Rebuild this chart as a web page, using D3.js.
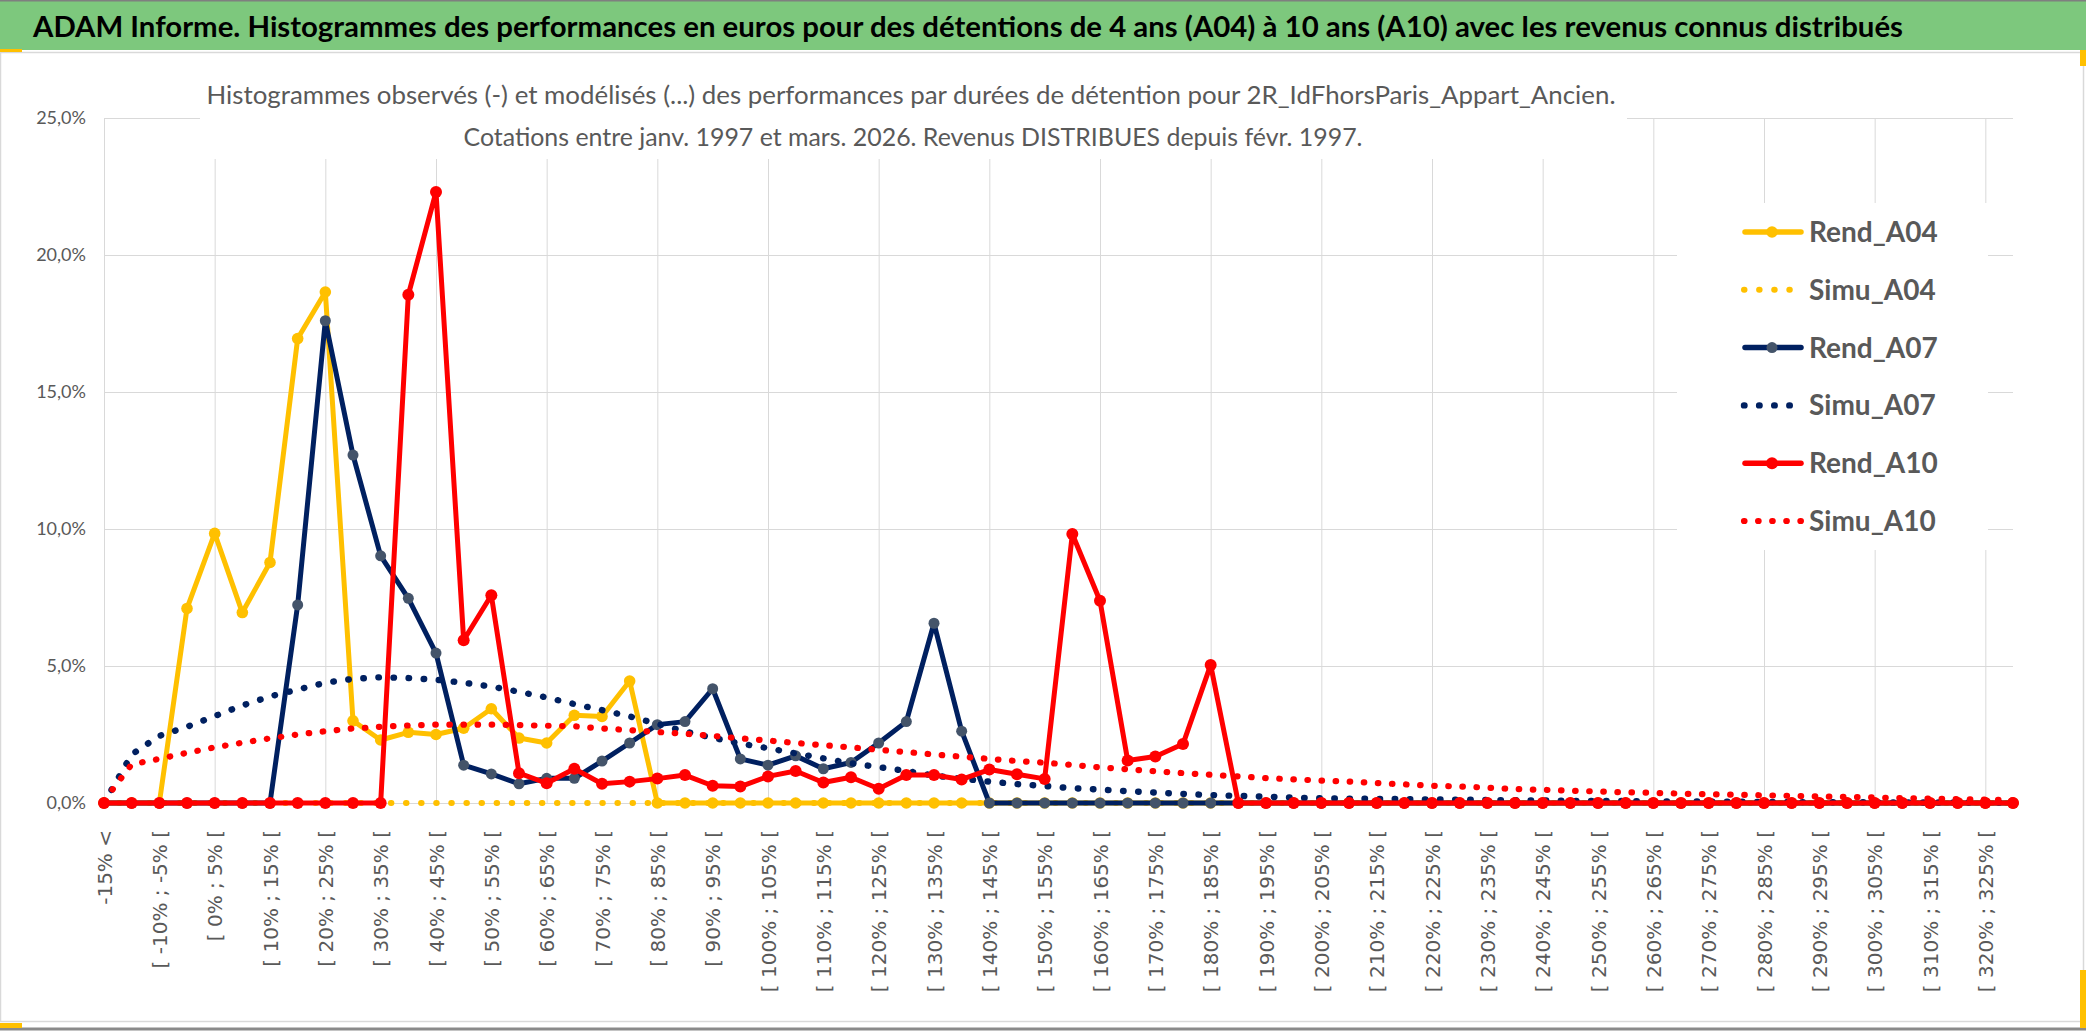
<!DOCTYPE html>
<html>
<head>
<meta charset="utf-8">
<script src="https://cdnjs.cloudflare.com/ajax/libs/d3/7.8.5/d3.min.js"></script>
<style>
    body { margin: 0; background: #ffffff; }
    svg { display: block; }
</style>
</head>
<body>
<div id="chart"></div>
<script>
// categories of the histogram (5% wide buckets)
const categories = [
    '-15% <', '[ -15% ; -10% [', '[ -10% ; -5% [', '[ -5% ; 0% [', '[ 0% ; 5% [',
    '[ 5% ; 10% [', '[ 10% ; 15% [', '[ 15% ; 20% [', '[ 20% ; 25% [', '[ 25% ; 30% [',
    '[ 30% ; 35% [', '[ 35% ; 40% [', '[ 40% ; 45% [', '[ 45% ; 50% [', '[ 50% ; 55% [',
    '[ 55% ; 60% [', '[ 60% ; 65% [', '[ 65% ; 70% [', '[ 70% ; 75% [', '[ 75% ; 80% [',
    '[ 80% ; 85% [', '[ 85% ; 90% [', '[ 90% ; 95% [', '[ 95% ; 100% [', '[ 100% ; 105% [',
    '[ 105% ; 110% [', '[ 110% ; 115% [', '[ 115% ; 120% [', '[ 120% ; 125% [', '[ 125% ; 130% [',
    '[ 130% ; 135% [', '[ 135% ; 140% [', '[ 140% ; 145% [', '[ 145% ; 150% [', '[ 150% ; 155% [',
    '[ 155% ; 160% [', '[ 160% ; 165% [', '[ 165% ; 170% [', '[ 170% ; 175% [', '[ 175% ; 180% [',
    '[ 180% ; 185% [', '[ 185% ; 190% [', '[ 190% ; 195% [', '[ 195% ; 200% [', '[ 200% ; 205% [',
    '[ 205% ; 210% [', '[ 210% ; 215% [', '[ 215% ; 220% [', '[ 220% ; 225% [', '[ 225% ; 230% [',
    '[ 230% ; 235% [', '[ 235% ; 240% [', '[ 240% ; 245% [', '[ 245% ; 250% [', '[ 250% ; 255% [',
    '[ 255% ; 260% [', '[ 260% ; 265% [', '[ 265% ; 270% [', '[ 270% ; 275% [', '[ 275% ; 280% [',
    '[ 280% ; 285% [', '[ 285% ; 290% [', '[ 290% ; 295% [', '[ 295% ; 300% [', '[ 300% ; 305% [',
    '[ 305% ; 310% [', '[ 310% ; 315% [', '[ 315% ; 320% [', '[ 320% ; 325% [', '[ 325% ; 330% ['
];

// values in %
const rendA04 = [
    0, 0, 0, 7.1, 9.84, 6.95, 8.78, 16.95, 18.65, 3.0,
    2.3, 2.58, 2.5, 2.73, 3.44, 2.37, 2.19, 3.2, 3.16, 4.45,
    0, 0, 0, 0, 0, 0, 0, 0, 0, 0,
    0, 0, 0, 0, 0, 0, 0, 0, 0, 0,
    0, 0, 0, 0, 0, 0, 0, 0, 0, 0,
    0, 0, 0, 0, 0, 0, 0, 0, 0, 0,
    0, 0, 0, 0, 0, 0, 0, 0, 0, 0
];
const simuA04 = [
    0, 0, 0, 0, 0, 0, 0, 0, 0, 0,
    0, 0, 0, 0, 0, 0, 0, 0, 0, 0,
    0, 0, 0, 0, 0, 0, 0, 0, 0, 0,
    0, 0, 0, 0, 0, 0, 0, 0, 0, 0,
    0, 0, 0, 0, 0, 0, 0, 0, 0, 0,
    0, 0, 0, 0, 0, 0, 0, 0, 0, 0,
    0, 0, 0, 0, 0, 0, 0, 0, 0, 0
];
const rendA07 = [
    0, 0, 0, 0, 0, 0, 0, 7.23, 17.6, 12.7,
    9.02, 7.47, 5.47, 1.38, 1.06, 0.7, 0.9, 0.9, 1.53, 2.19,
    2.86, 2.97, 4.17, 1.61, 1.38, 1.72, 1.25, 1.48, 2.19, 2.97,
    6.56, 2.62, 0, 0, 0, 0, 0, 0, 0, 0,
    0, 0, 0, 0, 0, 0, 0, 0, 0, 0,
    0, 0, 0, 0, 0, 0, 0, 0, 0, 0,
    0, 0, 0, 0, 0, 0, 0, 0, 0, 0
];
const simuA07 = [
    0, 1.77, 2.45, 2.78, 3.17, 3.56, 3.89, 4.14, 4.39, 4.53,
    4.59, 4.56, 4.5, 4.39, 4.25, 4.06, 3.85, 3.61, 3.39, 3.16,
    2.89, 2.61, 2.38, 2.17, 2.0, 1.81, 1.63, 1.45, 1.31, 1.17,
    1.0, 0.89, 0.78, 0.69, 0.62, 0.54, 0.49, 0.43, 0.38, 0.33,
    0.29, 0.26, 0.23, 0.2, 0.17, 0.16, 0.15, 0.14, 0.13, 0.12,
    0.11, 0.1, 0.09, 0.08, 0.075, 0.07, 0.06, 0.055, 0.05, 0.045,
    0.04, 0.035, 0.03, 0.028, 0.025, 0.022, 0.02, 0.018, 0.016, 0.014
];
const rendA10 = [
    0, 0, 0, 0, 0, 0, 0, 0, 0, 0,
    0, 18.55, 22.3, 5.94, 7.58, 1.09, 0.72, 1.25, 0.7, 0.78,
    0.89, 1.02, 0.63, 0.6, 0.97, 1.17, 0.75, 0.94, 0.52, 1.02,
    1.02, 0.86, 1.22, 1.05, 0.88, 9.82, 7.38, 1.55, 1.7, 2.15,
    5.04, 0, 0, 0, 0, 0, 0, 0, 0, 0,
    0, 0, 0, 0, 0, 0, 0, 0, 0, 0,
    0, 0, 0, 0, 0, 0, 0, 0, 0, 0
];
const simuA10 = [
    0.08, 1.41, 1.61, 1.83, 2.03, 2.2, 2.36, 2.5, 2.62, 2.72,
    2.78, 2.83, 2.86, 2.86, 2.86, 2.84, 2.82, 2.8, 2.72, 2.66,
    2.59, 2.53, 2.45, 2.36, 2.28, 2.19, 2.11, 2.03, 1.94, 1.86,
    1.77, 1.69, 1.61, 1.53, 1.47, 1.39, 1.3, 1.23, 1.16, 1.09,
    1.03, 0.97, 0.91, 0.86, 0.82, 0.78, 0.73, 0.68, 0.63, 0.6,
    0.56, 0.51, 0.48, 0.45, 0.42, 0.39, 0.37, 0.34, 0.32, 0.3,
    0.28, 0.26, 0.24, 0.22, 0.2, 0.18, 0.16, 0.14, 0.12, 0.1
];

const seriesNames = ['Rend_A04', 'Simu_A04', 'Rend_A07', 'Simu_A07', 'Rend_A10', 'Simu_A10'];
const seriesValues = [rendA04, simuA04, rendA07, simuA07, rendA10, simuA10];
const yTicks = [0, 5, 10, 15, 20, 25];

const titleText = 'ADAM Informe. Histogrammes des performances en euros pour des détentions de 4 ans (A04) à 10 ans (A10) avec les revenus connus distribués';
const subtitleLines = [
    'Histogrammes observés (-) et modélisés (...) des performances par durées de détention pour 2R_IdFhorsParis_Appart_Ancien.',
    'Cotations entre janv. 1997 et mars. 2026. Revenus DISTRIBUES depuis févr. 1997.'
];

// styles
const styles = {
    'Rend_A04': { color: '#ffc000', marker: '#ffc000', dotted: false, r: 5.8 },
    'Simu_A04': { color: '#ffc000', dotted: true, w: 6, gap: 14.6 },
    'Rend_A07': { color: '#002060', marker: '#44546a', dotted: false, r: 5.5 },
    'Simu_A07': { color: '#002060', dotted: true, w: 6.4, gap: 14.6 },
    'Rend_A10': { color: '#ff0000', marker: '#ff0000', dotted: false, r: 6 },
    'Simu_A10': { color: '#ff0000', dotted: true, w: 6.2, gap: 13.6 }
};

const width = 2086;
const height = 1031;
const plotLeft = 104;
const plotRight = 2013;
const plotTop = 118;
const plotBottom = 803;
const gray = '#595959';
const gridColor = '#d9d9d9';
const font = "Lato, 'Open Sans', sans-serif";

const svg = d3.select('#chart')
    .append('svg')
    .attr('width', width)
    .attr('height', height);

// chart area
svg.append('rect')
    .attr('x', 0).attr('y', 0)
    .attr('width', width).attr('height', height)
    .attr('fill', '#ffffff');
svg.append('rect')
    .attr('x', 0.5).attr('y', 52.5)
    .attr('width', 2083).attr('height', 969)
    .attr('fill', '#ffffff')
    .attr('stroke', gridColor)
    .attr('stroke-width', 1.5);
svg.append('line')
    .attr('x1', 0).attr('x2', width)
    .attr('y1', 1029).attr('y2', 1029)
    .attr('stroke', '#8a8a8a')
    .attr('stroke-width', 3);

const xScale = d3.scalePoint()
    .domain(categories)
    .range([plotLeft, plotRight]);

const yScale = d3.scaleLinear()
    .domain([0, 25])
    .range([plotBottom, plotTop]);

// gridlines
const yGrid = d3.axisLeft(yScale)
    .tickValues(yTicks)
    .tickSize(-(plotRight - plotLeft))
    .tickFormat('');
svg.append('g')
    .attr('class', 'grid')
    .attr('transform', 'translate(' + plotLeft + ',0)')
    .call(yGrid);

const xGrid = d3.axisBottom(xScale)
    .tickValues(categories.filter(function (d, i) { return i % 4 === 0; }))
    .tickSize(-(plotBottom - plotTop))
    .tickFormat('');
svg.append('g')
    .attr('class', 'grid')
    .attr('transform', 'translate(0,' + plotBottom + ')')
    .call(xGrid);

svg.selectAll('.grid .domain').remove();
svg.selectAll('.grid line')
    .attr('stroke', gridColor)
    .attr('stroke-width', 1);

// boxes of title and legend hide the grid
svg.append('rect')
    .attr('x', 200).attr('y', 60)
    .attr('width', 1427).attr('height', 99)
    .attr('fill', '#ffffff');
svg.append('rect')
    .attr('x', 1677).attr('y', 203)
    .attr('width', 311).attr('height', 347)
    .attr('fill', '#ffffff');

// chart title
svg.selectAll('.subtitle')
    .data(subtitleLines)
    .enter()
    .append('text')
    .attr('class', 'subtitle')
    .attr('x', function (d, i) { return i === 0 ? 911 : 913; })
    .attr('y', function (d, i) { return i === 0 ? 104 : 146; })
    .attr('text-anchor', 'middle')
    .attr('textLength', function (d, i) { return i === 0 ? 1409 : 899; })
    .attr('lengthAdjust', 'spacingAndGlyphs')
    .style('font-family', font)
    .style('font-size', '25px')
    .style('fill', gray)
    .text(function (d) { return d; });

// y axis
const frLocale = d3.formatLocale({ decimal: ',', thousands: ' ', grouping: [3], currency: ['', ' €'] });
const yAxis = d3.axisLeft(yScale)
    .tickValues(yTicks)
    .tickSize(0)
    .tickPadding(18)
    .tickFormat(function (d) { return frLocale.format('.1f')(d) + '%'; });
const yAxisG = svg.append('g')
    .attr('class', 'axis')
    .attr('transform', 'translate(' + plotLeft + ',0)')
    .call(yAxis);
yAxisG.select('.domain').remove();
yAxisG.selectAll('text')
    .style('font-family', font)
    .style('font-size', '18px')
    .style('fill', gray);

// x axis
const xAxis = d3.axisBottom(xScale)
    .tickValues(categories.filter(function (d, i) { return i % 2 === 0; }))
    .tickSize(0);
const xAxisG = svg.append('g')
    .attr('class', 'axis')
    .attr('transform', 'translate(0,' + plotBottom + ')')
    .call(xAxis);
xAxisG.select('.domain').remove();
xAxisG.selectAll('text')
    .attr('transform', 'rotate(-90)')
    .attr('text-anchor', 'end')
    .attr('x', -27)
    .attr('y', 0)
    .attr('dy', '0.36em')
    .style('font-family', "'DejaVu Sans', Verdana, sans-serif")
    .style('font-size', '20px')
    .style('fill', gray);

// series
const line = d3.line()
    .x(function (d, i) { return xScale(categories[i]); })
    .y(function (d) { return yScale(d); });

seriesNames.forEach(function (name, k) {
    const s = styles[name];
    const values = seriesValues[k];
    const path = svg.append('path')
        .datum(values)
        .attr('fill', 'none')
        .attr('stroke', s.color)
        .attr('d', line);
    if (s.dotted) {
        path.attr('stroke-width', s.w)
            .attr('stroke-linecap', 'round')
            .attr('stroke-dasharray', '0.5 ' + s.gap);
    } else {
        path.attr('stroke-width', 5)
            .attr('stroke-linejoin', 'round');
        svg.selectAll('.dot-' + k)
            .data(values)
            .enter()
            .append('circle')
            .attr('class', 'dot-' + k)
            .attr('cx', function (d, i) { return xScale(categories[i]); })
            .attr('cy', function (d) { return yScale(d); })
            .attr('r', s.r)
            .attr('fill', s.marker);
    }
});

// legend
const legendY = d3.scalePoint()
    .domain(seriesNames)
    .range([232, 521]);
const legend = svg.append('g').attr('class', 'legend');
seriesNames.forEach(function (name) {
    const s = styles[name];
    const y = legendY(name);
    const l = legend.append('line')
        .attr('x1', 1745).attr('x2', 1801)
        .attr('y1', y).attr('y2', y)
        .attr('stroke', s.color)
        .attr('stroke-linecap', 'round');
    if (s.dotted) {
        l.attr('stroke-width', s.w)
            .attr('x1', 1744)
            .attr('stroke-dasharray', '0.5 ' + s.gap);
    } else {
        l.attr('stroke-width', 5.5);
        legend.append('circle')
            .attr('cx', 1772).attr('cy', y)
            .attr('r', s.r)
            .attr('fill', s.marker);
    }
    legend.append('text')
        .attr('x', 1809)
        .attr('y', y + 10)
        .style('font-family', font)
        .style('font-size', '28px')
        .style('font-weight', 'bold')
        .style('fill', gray)
        .text(name);
});

// green title band
svg.append('rect')
    .attr('x', 0).attr('y', 0)
    .attr('width', width).attr('height', 50)
    .attr('fill', '#7dc87d');
svg.append('line')
    .attr('x1', 0).attr('x2', width)
    .attr('y1', 0.75).attr('y2', 0.75)
    .attr('stroke', '#7f7f7f')
    .attr('stroke-width', 1.5);
svg.append('text')
    .attr('x', 33)
    .attr('y', 37)
    .attr('textLength', 1870)
    .attr('lengthAdjust', 'spacingAndGlyphs')
    .style('font-family', font)
    .style('font-size', '28px')
    .style('font-weight', 'bold')
    .style('fill', '#000000')
    .text(titleText);

// selection handles
svg.append('rect').attr('x', 0).attr('y', 49).attr('width', 22).attr('height', 3).attr('fill', '#ffc000');
svg.append('rect').attr('x', 0).attr('y', 1023).attr('width', 22).attr('height', 5).attr('fill', '#ffc000');
svg.append('rect').attr('x', 2080).attr('y', 50).attr('width', 6).attr('height', 16).attr('fill', '#ffc000');
svg.append('rect').attr('x', 2080).attr('y', 970).attr('width', 6).attr('height', 58).attr('fill', '#ffc000');
</script>
</body>
</html>
